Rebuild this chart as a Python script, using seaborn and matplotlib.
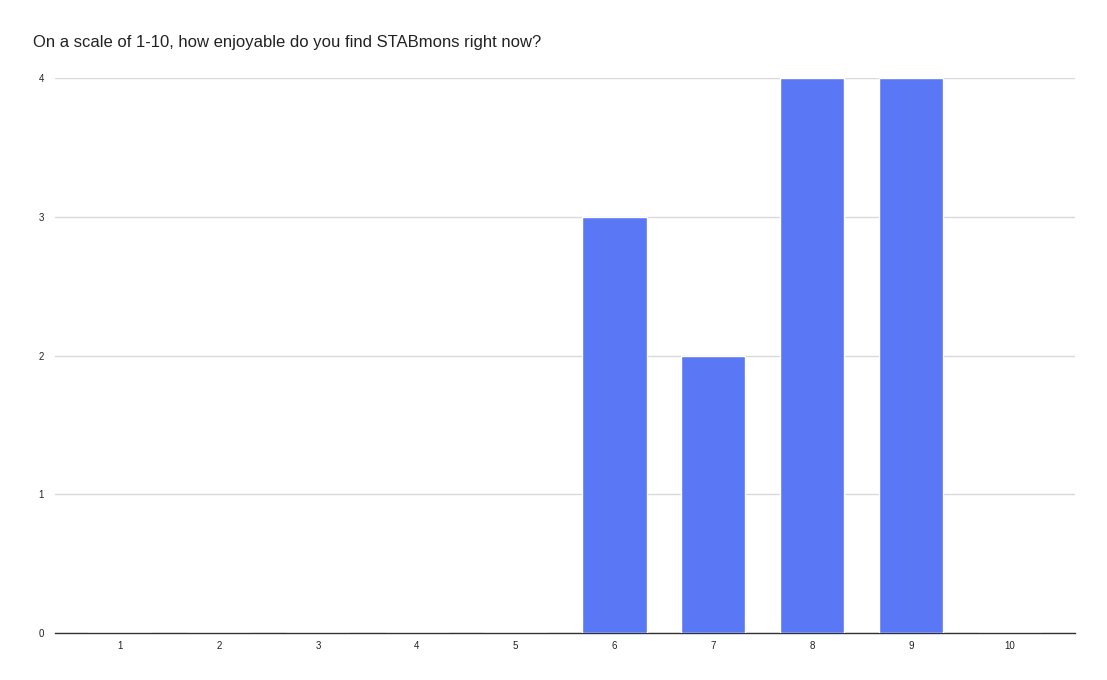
import pandas as pd
import seaborn as sns
import matplotlib.pyplot as plt

scores = ["1", "2", "3", "4", "5", "6", "7", "8", "9", "10"]
counts = [0, 0, 0, 0, 0, 3, 2, 4, 4, 0]
y_ticks = [0, 1, 2, 3, 4]

df = pd.DataFrame({"score": scores, "count": counts})

sns.set_style("white")
plt.rcParams["font.family"] = ["Liberation Sans", "DejaVu Sans"]

fig = plt.figure(figsize=(11.07, 6.8), dpi=100)
ax = fig.add_axes([0.0497, 0.0691, 0.9214, 0.8162])

sns.barplot(data=df, x="score", y="count", order=scores, color="#5A77F5",
            width=0.65, saturation=1, ax=ax, zorder=3)

ax.set_xlim(-0.66, 9.66)
ax.set_ylim(0, 4)
ax.set_yticks(y_ticks)
ax.set_yticklabels([str(t) for t in y_ticks])
ax.grid(axis="y", color="#d9d9d9", linewidth=1, zorder=0)
ax.set_axisbelow(True)
for side in ["top", "right", "left"]:
    ax.spines[side].set_visible(False)
ax.spines["bottom"].set_color("#333333")
ax.spines["bottom"].set_linewidth(1)
ax.tick_params(axis="both", length=0, labelsize=7, colors="#222222")
ax.tick_params(axis="y", pad=8)
ax.tick_params(axis="x", pad=6)
ax.set_xlabel("")
ax.set_ylabel("")

fig.text(33 / 1107, 1 - 43 / 680, "On a scale of 1-10, how enjoyable do you find STABmons right now?",
         fontsize=12, color="#222222", va="center", ha="left")

fig.savefig("out.png", dpi=100, facecolor="white")
